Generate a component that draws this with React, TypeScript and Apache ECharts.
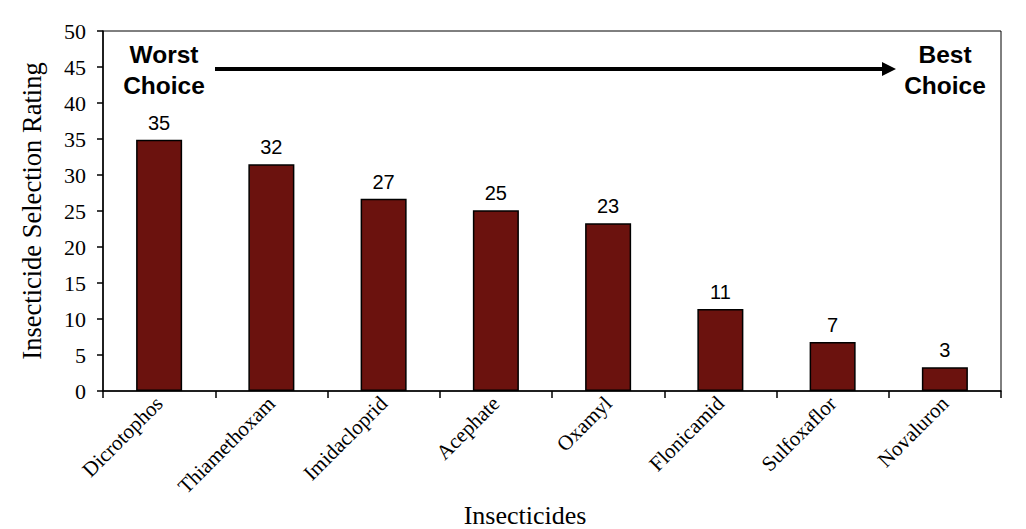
import { useEffect, useRef } from "react";
import * as echarts from "echarts";

const insecticides = [
  "Dicrotophos",
  "Thiamethoxam",
  "Imidacloprid",
  "Acephate",
  "Oxamyl",
  "Flonicamid",
  "Sulfoxaflor",
  "Novaluron",
];

const ratings = [34.9, 31.5, 26.7, 25.1, 23.3, 11.4, 6.8, 3.3];

const yTicks = { min: 0, max: 50, interval: 5 };

const serif = "'Liberation Serif', 'Times New Roman', serif";
const sans = "'Liberation Sans', Arial, sans-serif";

export default function App() {
  const chartEl = useRef<HTMLDivElement | null>(null);

  useEffect(() => {
    document.body.style.margin = "0";
    if (!chartEl.current) return;
    const chart = echarts.init(chartEl.current, null, { renderer: "svg" });

    chart.setOption({
      animation: false,
      backgroundColor: "#fff",
      grid: {
        left: 103,
        right: 25,
        top: 31,
        bottom: 138,
        show: true,
        borderColor: "#000",
        borderWidth: 1,
        outerBoundsMode: "none",
      },
      xAxis: {
        type: "category",
        data: insecticides,
        axisLine: { lineStyle: { color: "#000", width: 1.5 } },
        axisTick: { show: true, alignWithLabel: false, interval: 0, length: 7, lineStyle: { color: "#000", width: 1.5 } },
        axisLabel: {
          interval: 0,
          rotate: 45,
          margin: 9,
          color: "#000",
          fontFamily: serif,
          fontSize: 21,
        },
      },
      yAxis: {
        type: "value",
        min: yTicks.min,
        max: yTicks.max,
        interval: yTicks.interval,
        name: "Insecticide Selection Rating",
        nameLocation: "middle",
        nameGap: 58,
        nameTextStyle: { color: "#000", fontFamily: serif, fontSize: 26.5 },
        axisLine: { show: true, lineStyle: { color: "#000", width: 1.5 } },
        axisTick: { show: true, length: 6, lineStyle: { color: "#000", width: 1.5 } },
        axisLabel: { color: "#000", fontFamily: serif, fontSize: 22, margin: 17 },
        splitLine: { show: false },
      },
      series: [
        {
          type: "bar",
          data: ratings,
          barWidth: "41%",
          itemStyle: { color: "#6b120e", borderColor: "#000", borderWidth: 1.5 },
          label: {
            show: true,
            position: "top",
            distance: 7,
            color: "#000",
            fontFamily: sans,
            fontSize: 20,
            formatter: (p: any) => String(Math.round(p.value)),
          },
        },
      ],
      graphic: [
        {
          type: "line",
          shape: { x1: 215, y1: 69, x2: 884, y2: 69 },
          style: { stroke: "#000", lineWidth: 4 },
        },
        {
          type: "polygon",
          shape: { points: [[882, 62], [896, 69], [882, 76]] },
          style: { fill: "#000" },
        },
        {
          type: "text",
          x: 164,
          y: 70,
          style: {
            text: "Worst\nChoice",
            fill: "#000",
            font: `bold 24.5px ${sans}`,
            align: "center",
            verticalAlign: "middle",
            lineHeight: 31,
          },
        },
        {
          type: "text",
          x: 945,
          y: 70,
          style: {
            text: "Best\nChoice",
            fill: "#000",
            font: `bold 24.5px ${sans}`,
            align: "center",
            verticalAlign: "middle",
            lineHeight: 31,
          },
        },
        {
          type: "text",
          x: 525,
          y: 515,
          style: {
            text: "Insecticides",
            fill: "#000",
            font: `26px ${serif}`,
            align: "center",
            verticalAlign: "middle",
          },
        },
      ],
    });

    return () => chart.dispose();
  }, []);

  return <div ref={chartEl} style={{ width: 1026, height: 529 }} />;
}
